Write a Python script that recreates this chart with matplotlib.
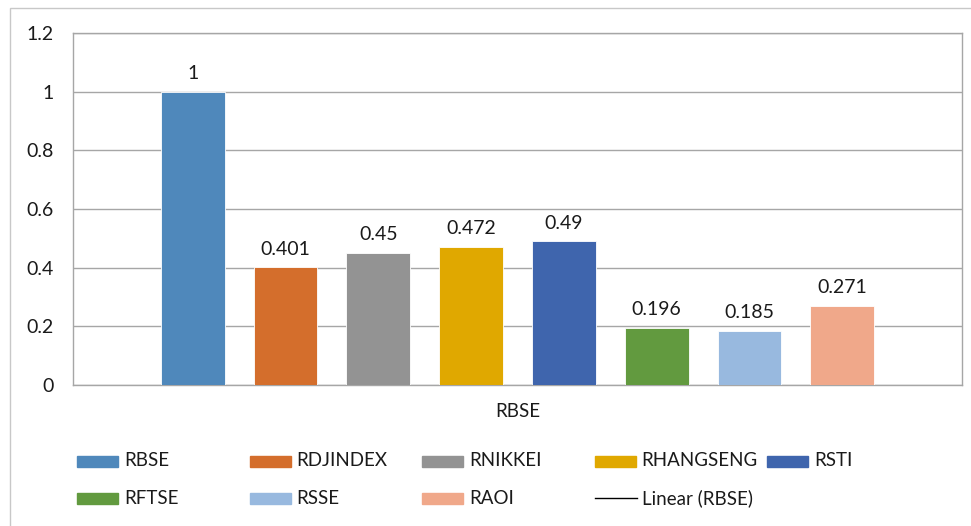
import matplotlib
matplotlib.use("Agg")
import matplotlib.pyplot as plt  # noqa: E402
import numpy as np  # noqa: E402
from matplotlib.patches import Rectangle  # noqa: E402
from matplotlib.lines import Line2D  # noqa: E402

plt.rcParams["font.family"] = ["Lato", "DejaVu Sans"]

CATEGORY = "RBSE"
SERIES = ["RBSE", "RDJINDEX", "RNIKKEI", "RHANGSENG", "RSTI", "RFTSE", "RSSE", "RAOI"]
VALUES = [1, 0.401, 0.45, 0.472, 0.49, 0.196, 0.185, 0.271]
LABELS = ["1", "0.401", "0.45", "0.472", "0.49", "0.196", "0.185", "0.271"]
COLORS = ["#4f88bb", "#d46e2c", "#939393", "#e0a800", "#3f65ad",
          "#629a3f", "#98b9df", "#f0a88a"]
TREND_LABEL = "Linear (RBSE)"
YTICKS = [0, 0.2, 0.4, 0.6, 0.8, 1, 1.2]

W, H = 971, 526
fig = plt.figure(figsize=(W / 100, H / 100), dpi=100)
ax = fig.add_axes([73 / W, 1 - 385 / H, (962 - 73) / W, (385 - 33) / H])

GRID = "#a6a6a6"
TXT = "#1a1a1a"
x = np.arange(len(SERIES))
bw = 64 / 93
ax.bar(x, VALUES, bw, color=COLORS, edgecolor="white", lw=0.6, zorder=3)
for xi, v, lab in zip(x, VALUES, LABELS):
    ax.annotate(lab, (xi, v), xytext=(0, 7), textcoords="offset points",
                ha="center", va="bottom", fontsize=14, color=TXT)

margin = 88 / 93
ax.set_xlim(-bw / 2 - margin, len(SERIES) - 1 + bw / 2 + margin)
ax.set_ylim(0, 1.2)
ax.set_yticks(YTICKS)
ax.set_yticklabels([f"{t:g}" for t in YTICKS], fontsize=14, color=TXT)
ax.set_xticks([(len(SERIES) - 1) / 2])
ax.set_xticklabels([CATEGORY], fontsize=13.5, color=TXT)
ax.tick_params(axis="y", length=0, pad=14)
ax.tick_params(axis="x", length=0, pad=13)
ax.grid(axis="y", color=GRID, lw=1, zorder=0)
for s in ax.spines.values():
    s.set_color(GRID)
    s.set_linewidth(1)

# outer chart border
fig.add_artist(Rectangle((10 / W, -0.05), 1.2, 1.05 - 8 / H, transform=fig.transFigure,
                         fill=False, edgecolor="#c8c8c8", lw=1))

# legend, laid out like Excel on a fixed grid
for i, (name, col) in enumerate(zip(SERIES + [TREND_LABEL], COLORS + ["black"])):
    cx = 77 + (i % 5) * 172.5
    cy = 461 + (i // 5) * 37
    if name == TREND_LABEL:
        fig.add_artist(Line2D([cx / W, (cx + 42) / W], [1 - cy / H, 1 - cy / H],
                              transform=fig.transFigure, color="black", lw=1))
    else:
        fig.add_artist(Rectangle((cx / W, 1 - (cy + 5.5) / H), 41 / W, 11 / H,
                                 transform=fig.transFigure, color=col))
    fig.text((cx + 47) / W, 1 - cy / H, name, ha="left", va="center", fontsize=13.5,
             color=TXT)

fig.savefig("out.png", dpi=100)
